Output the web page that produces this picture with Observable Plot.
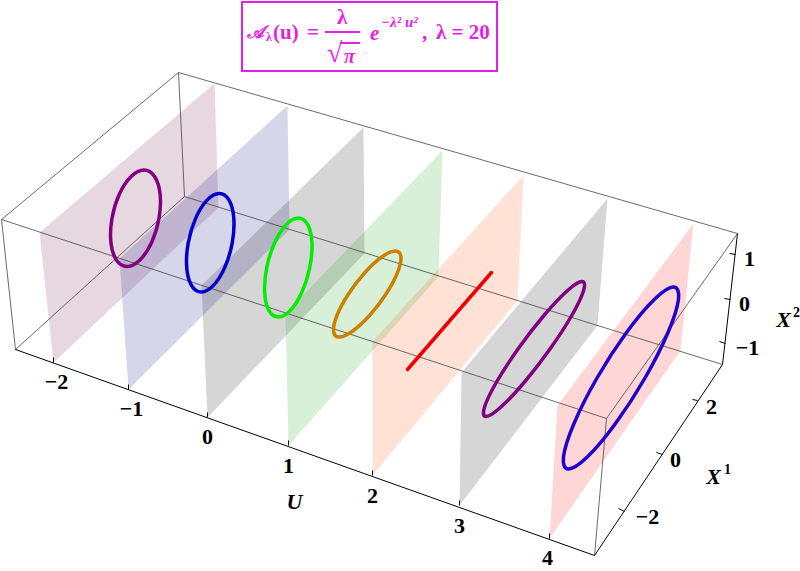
<!DOCTYPE html>
<html>
<head>
<meta charset="utf-8">
<script src="https://cdn.jsdelivr.net/npm/d3@7"></script>
<script src="https://cdn.jsdelivr.net/npm/@observablehq/plot@0.6"></script>
<style>
html,body{margin:0;padding:0;background:#fff}
#head{position:relative;width:800px;height:72px;font-family:"Liberation Serif",serif;font-weight:bold;color:#e81ee8}
#box{position:absolute;left:241px;top:1px;width:253px;height:67px;border:2px solid #e81ee8}
#head span{position:absolute;white-space:nowrap;line-height:1}
#bar{position:absolute;left:325px;top:31px;width:35px;height:2px;background:#e81ee8}
#root{position:absolute;left:340px;top:42px;width:20px;height:2px;background:#e81ee8}
svg{display:block}
</style>
</head>
<body>
<div id="head">
  <div id="box"></div>
  <span style="left:247px;top:23px;font-size:18px;font-style:italic">𝒜</span>
  <span style="left:266px;top:31px;font-size:12px">λ</span>
  <span style="left:273px;top:22px;font-size:21px;word-spacing:3px">(u) =</span>
  <span style="left:337px;top:7px;font-size:21px">λ</span>
  <div id="bar"></div>
  <div id="root"></div>
  <span style="left:327px;top:39px;font-size:28px;font-weight:normal">√</span>
  <span style="left:344px;top:46px;font-size:20px;font-style:italic">π</span>
  <span style="left:370px;top:23px;font-size:21px;font-style:italic">e</span>
  <span style="left:381px;top:15px;font-size:15px;font-style:italic">−λ² u²</span>
  <span style="left:422px;top:22px;font-size:21px">,</span>
  <span style="left:436px;top:22px;font-size:21px">λ = 20</span>
</div>
<div id="chart"></div>
<script>
// Parallel slices through the box, one per U value (positions in picture units)
const uValues = [-2, -1, 0, 1, 2, 3, 4];
const planeColors = ["#630544", "#000080", "#000000", "#05a105", "#ff4400", "#000000", "#ff0000"];
const frontBottomX = [53, 128, 207, 288, 372, 459, 549];
const frontBottomY = [362, 389, 417, 445, 475, 505, 538];
const frontTopX = [39, 119, 201, 285, 372, 461, 557];
const frontTopY = [232, 258, 285, 313, 341, 372, 405];
const backTopX = [214, 287, 363, 442, 523, 607, 693];
const backTopY = [83, 105, 127, 150, 175, 198, 223];
const backBottomX = [218, 289, 364, 438, 517, 597, 680];
const backBottomY = [207, 229, 253, 276, 300, 325, 350];

// Box edges: [x1, y1, x2, y2]
const thinEdges = [
  [178, 72, 737, 233], [178, 72, 1, 219], [1, 219, 606, 418], [606, 418, 737, 233],
  [178, 72, 184, 196], [1, 219, 15, 349], [184, 196, 15, 349], [184, 196, 722, 364],
  [606, 418, 594, 555]
];
const axisEdges = [[15, 349, 594, 555], [594, 555, 722, 364], [722, 364, 737, 233]];

// Rings
const ring1X = [143.5,154.1,159.6,158.5,151.1,139.4,126.5,115.9,110.4,111.5,118.9,130.6];
const ring1Y = [169.5,176,193.6,217.75,241.9,259.5,266,259.5,241.9,217.75,193.6,176];
const ring2X = [218.75,228.55,233.3,231.75,224.3,212.95,200.75,190.95,186.2,187.75,195.2,206.55];
const ring2Y = [193,199.6,217.6,242.25,266.9,284.9,291.5,284.9,266.9,242.25,217.6,199.6];
const ring3X = [297.75,307.2,311.4,309.25,301.4,289.8,277.75,268.3,264.2,266.25,274.2,285.7];
const ring3Y = [217.5,224.1,242.25,267,291.75,309.9,316.5,309.9,291.75,267,242.25,224.1];
const ring4X = [394.75,400.4,397.05,385.55,369.05,351.9,338.75,333.1,336.45,347.95,364.45,381.6];
const ring4Y = [250.5,256.3,272,293.5,315,330.7,336.5,330.7,315,293.5,272,256.3];
const ring5X = [407,491];
const ring5Y = [369,272];
const ring6X = [581.5,583.1,571.4,549.5,523.4,499.9,485.5,483.9,495.6,517.5,543.6,567.1];
const ring6Y = [281,290,314.75,348.5,382.25,407,416,407,382.25,348.5,314.75,290];
const ring7X = [673,678,667.5,644.5,615,587,568,563,573.5,596.5,626,654];
const ring7Y = [286.5,298.7,332,377.5,423,456.3,468.5,456.3,423,377.5,332,298.7];
const ringColors = ["#800080", "#0000cc", "#00ee00", "#cc8000", "#ee0000", "#800080", "#2200cc"];

// Ticks and labels
const uTickLabels = ["−2", "−1", "0", "1", "2", "3", "4"];
const uLabelX = [56, 131, 207, 288, 372, 459, 547];
const uLabelY = [381, 408, 436, 465, 495, 525, 557];
const x1Labels = ["2", "0", "−2"];
const x1TickX = [697, 662, 624];
const x1TickY = [400, 454, 511];
const x1TickEndX = [692, 656, 618];
const x1TickEndY = [399, 452, 508];
const x1LabelX = [711, 675, 647];
const x1LabelY = [406, 459, 516];
const x2Labels = ["1", "0", "−1"];
const x2TickX = [735, 730, 725];
const x2TickY = [254, 299, 343];
const x2TickEndX = [729, 724, 719];
const x2TickEndY = [253, 298, 341];
const x2LabelX = [749, 744, 747];
const x2LabelY = [258, 303, 347];

const planeMarks = uValues.map((u, i) => Plot.line(
  [[frontBottomX[i], frontBottomY[i]], [frontTopX[i], frontTopY[i]], [backTopX[i], backTopY[i]], [backBottomX[i], backBottomY[i]]],
  {x: d => d[0], y: d => d[1], curve: "linear-closed", fill: planeColors[i], fillOpacity: 0.16, stroke: "none"}
));

const rings = [[ring1X, ring1Y], [ring2X, ring2Y], [ring3X, ring3Y], [ring4X, ring4Y], [ring5X, ring5Y], [ring6X, ring6Y], [ring7X, ring7Y]];
const ringMarks = rings.map(([xs, ys], i) => Plot.line(
  xs.map((x, j) => [x, ys[j]]),
  {x: d => d[0], y: d => d[1], curve: xs.length > 2 ? "cardinal-closed" : "linear", tension: 0, stroke: ringColors[i], strokeWidth: 3.5}
));

const edge = (rows, stroke, strokeWidth) => Plot.link(rows, {x1: d => d[0], y1: d => d[1], x2: d => d[2], y2: d => d[3], stroke, strokeWidth});
const ticks = (x1, y1, x2, y2) => edge(x1.map((x, i) => [x, y1[i], x2[i], y2[i]]), "#000", 1);
const labels = (text, xs, ys, extra = {}) => Plot.text(text.map((t, i) => ({t, x: xs[i], y: ys[i]})), {
  x: "x", y: "y", text: "t", fontFamily: "Liberation Serif", fontWeight: "bold", fontSize: 22, fill: "#000", ...extra
});

const chart = Plot.plot({
  width: 800,
  height: 499,
  margin: 0,
  x: {domain: [0, 800], range: [0, 800], axis: null},
  y: {domain: [72, 571], range: [0, 499], axis: null},
  marks: [
    ...planeMarks,
    edge(thinEdges, "#444", 0.8),
    edge(axisEdges, "#000", 1),
    ticks(frontBottomX, frontBottomY, frontBottomX, frontBottomY.map(y => y - 5)),
    ticks(x1TickX, x1TickY, x1TickEndX, x1TickEndY),
    ticks(x2TickX, x2TickY, x2TickEndX, x2TickEndY),
    ...ringMarks,
    labels(uTickLabels, uLabelX, uLabelY),
    labels(x1Labels, x1LabelX, x1LabelY),
    labels(x2Labels, x2LabelX, x2LabelY),
    labels(["U"], [294], [501], {fontStyle: "italic"}),
    labels(["X", "X"], [713, 783], [476, 319], {fontStyle: "italic"}),
    labels(["1", "2"], [727, 796], [469, 312], {fontSize: 14})
  ]
});
document.getElementById("chart").appendChild(chart);
</script>
</body>
</html>
